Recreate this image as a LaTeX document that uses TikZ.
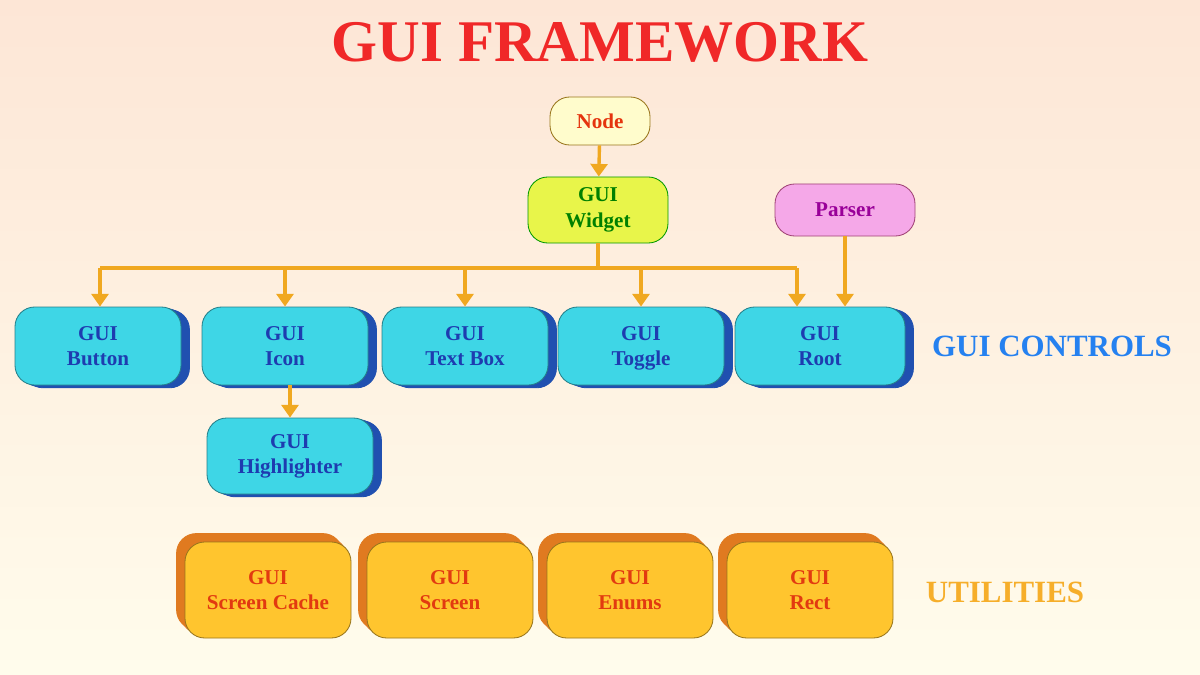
\documentclass[tikz,border=0pt]{standalone}
\usepackage{fontspec}
\setmainfont{Liberation Serif}
\usetikzlibrary{arrows.meta,shadows}
\definecolor{bgtop}{HTML}{FDE6D6}
\definecolor{bgbot}{HTML}{FFFCEC}
\definecolor{cyanf}{HTML}{3ED6E6}
\definecolor{cyant}{HTML}{1E3CB0}
\definecolor{cyans}{HTML}{2050B0}
\definecolor{orf}{HTML}{FFC52E}
\definecolor{ort}{HTML}{E23A10}
\definecolor{ors}{HTML}{E07A20}
\definecolor{wire}{HTML}{F0A820}
\definecolor{titr}{HTML}{F02828}
\tikzset{
  box/.style={rounded corners=14pt, draw=#1!60!black, line width=0.6pt, align=center, font=\bfseries\fontsize{15}{18}\selectfont, inner sep=0pt},
  ctrl/.style={box=cyanf, fill=cyanf, text=cyant, minimum width=166*0.025cm, minimum height=78*0.025cm,
     double copy shadow={shadow xshift=3pt, shadow yshift=-1pt, fill=cyans, draw=cyans}},
  util/.style={box=orf, fill=orf, text=ort, minimum width=166*0.025cm, minimum height=96*0.025cm,
     double copy shadow={shadow xshift=-3pt, shadow yshift=3pt, fill=ors, draw=ors}},
  wr/.style={draw=wire, line width=2.4pt},
  ar/.style={wr, -{Triangle[length=9pt,width=12pt]}},
  side/.style={font=\bfseries\fontsize{22}{24}\selectfont}
}
\begin{document}
\begin{tikzpicture}[x=0.025cm,y=-0.025cm]
\shade[top color=bgtop, bottom color=bgbot] (0,0) rectangle (1200,675);
\useasboundingbox (0,0) rectangle (1200,675);
\node[font=\bfseries\fontsize{42}{44}\selectfont, text=titr] (title) at (600,42) {GUI FRAMEWORK};
\node[box=orf, fill=yellow!20, text=ort!90!red, minimum width=100*0.025cm, minimum height=48*0.025cm] (node) at (600,121) {Node};
\node[box=green, fill={rgb,255:red,232;green,245;blue,74}, text=green!50!black, minimum width=140*0.025cm, minimum height=66*0.025cm] (widget) at (598,210) {GUI\\Widget};
\node[box=magenta, fill={rgb,255:red,245;green,168;blue,232}, text=violet!80!magenta, minimum width=140*0.025cm, minimum height=52*0.025cm] (parser) at (845,210) {Parser};
\node[ctrl] (button) at (98,346) {GUI\\Button};
\node[ctrl] (icon) at (285,346) {GUI\\Icon};
\node[ctrl] (textbox) at (465,346) {GUI\\Text Box};
\node[ctrl, text depth=0pt] (toggle) at (641,346) {GUI\\Toggle};
\node[ctrl, minimum width=170*0.025cm] (root) at (820,346) {GUI\\Root};
\node[ctrl, minimum height=76*0.025cm] (hl) at (290,456) {GUI\\Highlighter};
\node[util] (sc) at (268,590) {GUI\\Screen Cache};
\node[util] (scr) at (450,590) {GUI\\Screen};
\node[util] (en) at (630,590) {GUI\\Enums};
\node[util] (rect) at (810,590) {GUI\\Rect};
\node[side, text=cyanf!60!blue] (lc) at (1052,346) {GUI CONTROLS};
\node[side, text=orf!70!ors] (lu) at (1005,592) {UTILITIES};
\coordinate (bus) at (598,268);
\draw[ar] (node) -- (widget);
\draw[wr] (widget.south) -- (bus);
\draw[wr] (100,268) -- (797,268);
\draw[ar] (100,268) -- (button.north -| 100,0);
\draw[ar] (bus -| icon.north) -- (icon.north);
\draw[ar] (bus -| textbox.north) -- (textbox.north);
\draw[ar] (bus -| toggle.north) -- (toggle.north);
\draw[ar] (797,268) -- (root.north -| 797,0);
\draw[ar] (parser.south -| 845,0) -- (root.north -| 845,0);
\draw[ar] (icon.south -| 290,0) -- (hl.north);
\end{tikzpicture}
\end{document}
